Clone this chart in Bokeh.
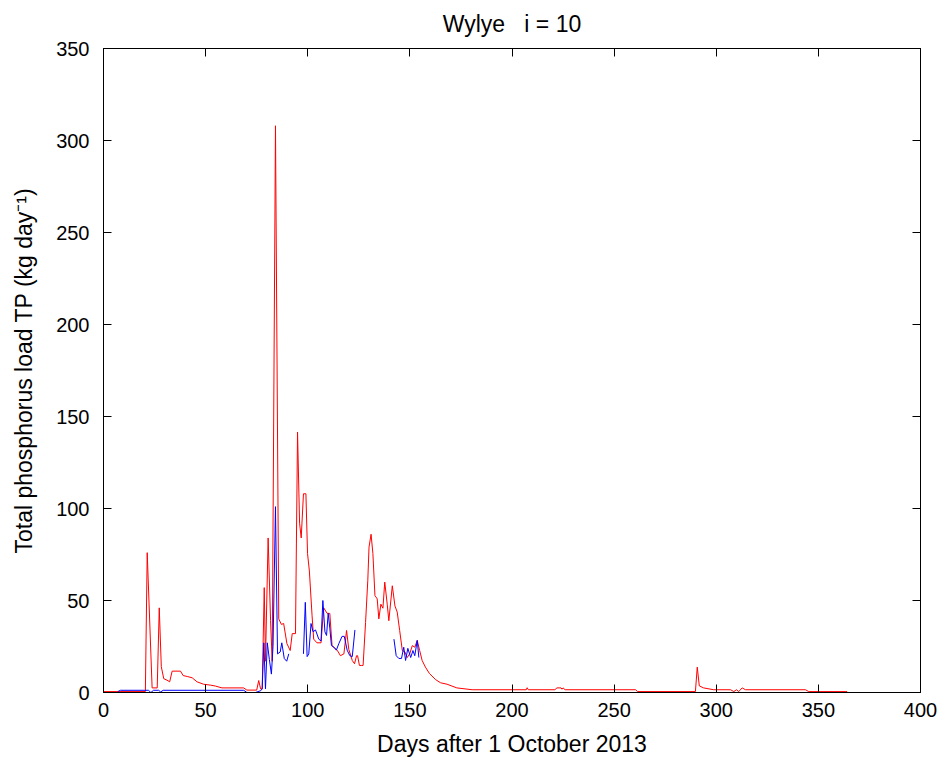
from bokeh.plotting import figure
from bokeh.models import LinearAxis, SingleIntervalTicker, Range1d
from bokeh.embed import file_html
from bokeh.resources import INLINE
import numpy as np

# Estimated load (red) - days after 1 Oct 2013 and TP load (kg/day)
red_days = [0, 20.5, 21.4, 23.8, 26.3, 27.3, 28.3, 29.5, 31.1, 32.4, 33.6, 37.7, 39.0, 41.0,
            43.4, 45.8, 49.0, 52.4, 54.8, 58.0, 68.6, 70.2, 75.0, 76.0, 76.9, 77.7, 78.7,
            79.3, 80.6, 81.8, 82.6, 84.2, 85.8, 87.1, 88.2, 89.8, 91.4, 92.4, 94.0, 95.0,
            96.0, 96.8, 97.9, 99.1, 99.9, 100.8, 102.1, 102.9, 104.5, 106.5, 107.8, 109.5,
            110.8, 111.9, 114.4, 116.0, 117.7, 119.0, 120.1, 121.8, 122.9, 123.9, 124.4,
            125.3, 126.2, 127.1, 128.3, 129.4, 130.0, 131.0, 131.9, 132.9, 134.0, 134.8,
            135.8, 136.8, 137.7, 138.9, 139.7, 141.4, 142.7, 143.8, 145.0, 146.3, 147.6,
            148.7, 149.9, 151.2, 152.4, 153.6, 154.8, 156.0, 157.6, 159.6, 162.6, 165.0,
            168.2, 173.0, 180.5, 207.0, 207.4, 208.0, 221.0, 222.0, 224.0, 224.5, 225.0,
            226.0, 260.5, 261.5, 289.8, 290.7, 291.7, 293.8, 298.7, 307.0, 308.6, 309.9,
            311.0, 312.7, 314.3, 343.7, 345.3, 364.1]
red_vals = [0.5, 0.5, 76, 2.5, 2.5, 46, 14, 7.5, 6.7, 5.8, 11.6, 11.6, 9.2, 8.7,
            8.0, 5.8, 4.5, 4.0, 3.5, 2.5, 2.5, 1.3, 1.3, 6.5, 2.0, 2.0, 57,
            17, 84, 39, 17, 308, 40, 37, 37.5, 26.6, 22.8, 32, 32, 141.5,
            92, 84, 108, 108, 75.5, 66, 42, 29, 27, 27, 46, 43,
            43, 25.5, 23, 20, 21, 33.7, 23.4, 17.4, 15.6, 20, 20,
            14.7, 14.7, 14.7, 38, 61, 79, 86, 75.5, 52.7, 50.9, 40,
            48, 45.8, 60, 48, 39, 58, 47, 43.7, 33.7, 22.8, 22,
            19, 21, 25.5, 24.6, 28.3, 22.8, 17.4, 13.8, 10.3, 7.0, 5.3,
            4.5, 2.5, 1.5, 1.5, 2.6, 1.5, 1.5, 2.5, 2.5, 1.8, 2.5,
            1.5, 1.5, 0.5, 0.5, 13.8, 3.6, 2.5, 1.5, 1.5, 0.5, 1.5,
            0.5, 2.5, 1.5, 1.5, 0.5, 0.5]

# Observed-based load (blue), NaN marks gaps
blue_days = [7.0, 8.3, 22.0, 23.2, 24.5, 27.0, 28.0, 29.2, 68.7, 70.2, 74.4, 77.0, 77.7,
             78.5, 79.3, 80.2, 81.2, 82.2, 83.0, 84.2, 85.2, 86.5, 87.3, 88.5, 89.7, 90.7,
             94.0,
             97.9, 98.8, 99.7, 100.5, 101.6, 102.6, 103.8, 105.4, 106.5, 107.4, 108.4,
             109.2, 110.0, 110.8, 111.6, 112.8, 114.0, 115.2, 116.8, 117.9, 119.3, 120.6,
             121.8, 123.1,
             132.0,
             142.2, 143.3, 144.6, 145.9, 147.0, 147.9, 149.0, 150.4, 151.5, 152.4, 153.6,
             154.4]
blue_vals = [0.5, 1.2, 1.2, 0.0, 1.2, 1.2, 0.3, 1.2, 1.2, 0.0, 0.0, 1.0, 2.0,
             27, 2, 27, 18, 10, 25, 101, 21, 22, 27, 18.5, 17, 21,
             np.nan,
             21, 49, 19.5, 21, 37.5, 33, 34, 29, 28, 50, 33,
             31, 43, 35, 25.5, 24.6, 23, 26.5, 30.5, 30.5, 23, 20,
             19.5, 34,
             np.nan,
             29, 20, 18.5, 18.5, 24.6, 17.4, 24, 19, 22.8, 20, 28.3,
             19]

x_ticks_interval = 50
y_ticks_interval = 50

FONT = "Liberation Sans"

p = figure(width=946, height=761, output_backend="svg", toolbar_location=None,
           x_range=Range1d(0, 400), y_range=Range1d(0, 350),
           title="Wylye\u00a0\u00a0\u00a0i = 10",
           min_border_left=103, min_border_right=26, min_border_top=48, min_border_bottom=69)

p.line(red_days, red_vals, line_color="#FF0000", line_width=1)
p.line(blue_days, blue_vals, line_color="#0000FF", line_width=1)

p.grid.visible = False
p.outline_line_color = "black"
p.outline_line_width = 1
p.background_fill_color = "white"
p.border_fill_color = "white"

p.title.align = "center"
p.title.text_font = FONT
p.title.text_font_size = "23px"
p.title.text_font_style = "normal"
p.title.text_color = "black"
p.title.standoff = 15

for ax, interval in ((p.xaxis[0], x_ticks_interval), (p.yaxis[0], y_ticks_interval)):
    ax.ticker = SingleIntervalTicker(interval=interval)
    ax.major_tick_in = 8
    ax.major_tick_out = 0
    ax.minor_tick_line_color = None
    ax.axis_line_color = "black"
    ax.major_tick_line_color = "black"
    ax.major_label_text_font = FONT
    ax.major_label_text_font_size = "20px"
    ax.major_label_text_color = "black"
    ax.axis_label_text_font = FONT
    ax.axis_label_text_font_size = "23px"
    ax.axis_label_text_font_style = "normal"
    ax.axis_label_text_color = "black"

p.xaxis.axis_label = "Days after 1 October 2013"
p.yaxis.axis_label = "Total phosphorus load TP (kg day\u207b\u00b9)"
p.xaxis.major_label_standoff = 6
p.yaxis.major_label_standoff = 10
p.xaxis.axis_label_standoff = 11
p.yaxis.axis_label_standoff = 16

for side, interval in (("right", y_ticks_interval), ("above", x_ticks_interval)):
    ax = LinearAxis(ticker=SingleIntervalTicker(interval=interval))
    ax.major_tick_in = 8
    ax.major_tick_out = 0
    ax.minor_tick_line_color = None
    ax.major_label_text_font_size = "0px"
    ax.major_label_text_color = None
    ax.major_label_standoff = 0
    p.add_layout(ax, side)

open("out.html", "w").write(file_html(p, INLINE))
